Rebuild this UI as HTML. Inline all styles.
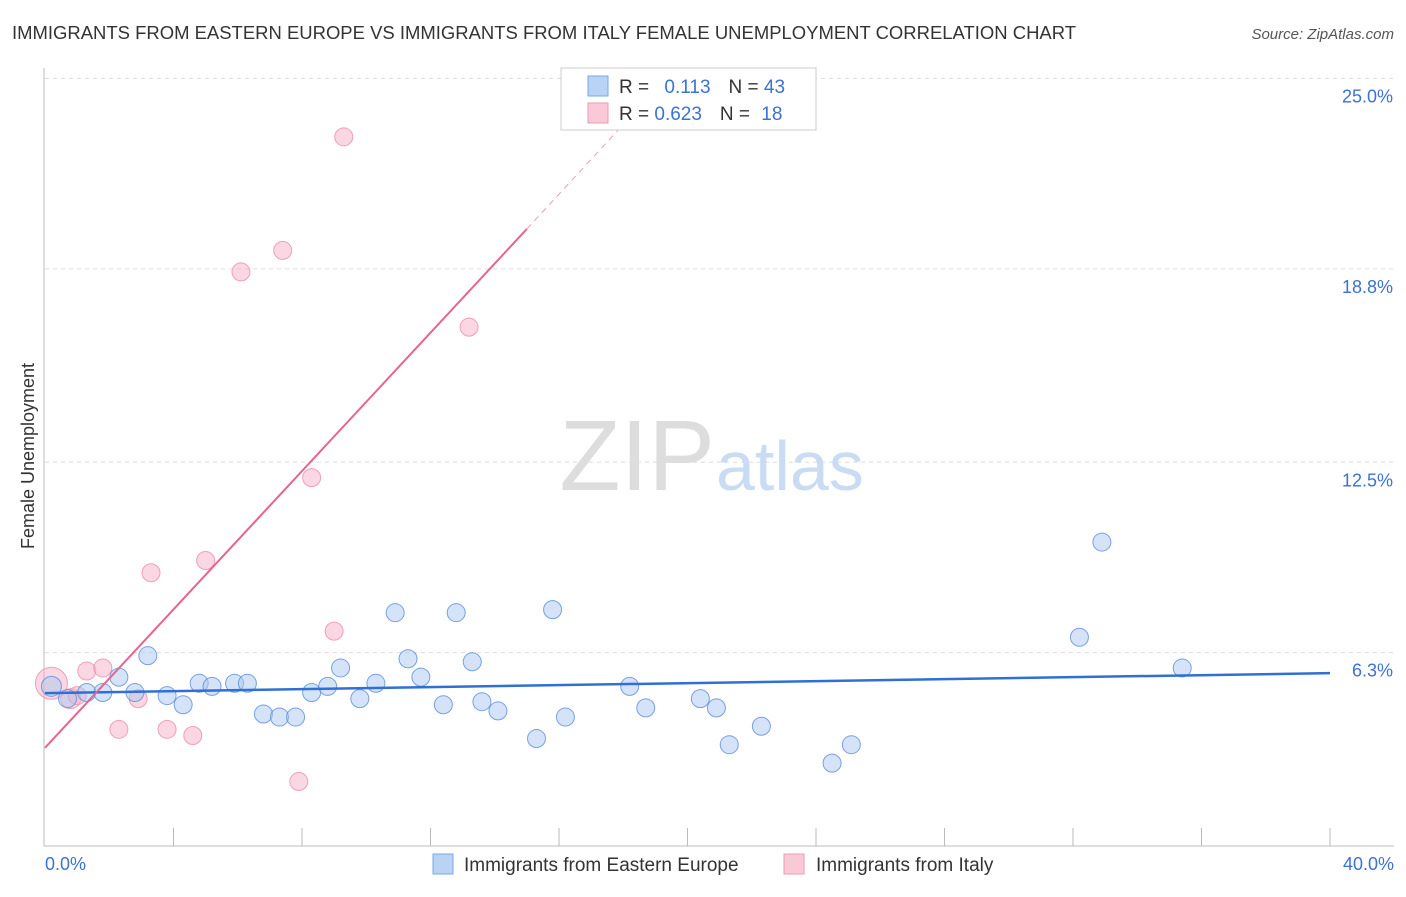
<!DOCTYPE html>
<html><head><meta charset="utf-8"><style>
body{margin:0;background:#fff;font-family:"Liberation Sans",sans-serif;}
svg text{font-family:"Liberation Sans",sans-serif;}
</style></head><body>
<svg width="1406" height="892" xmlns="http://www.w3.org/2000/svg">
<text x="12" y="39" font-size="18" fill="#333" textLength="1064" lengthAdjust="spacingAndGlyphs">IMMIGRANTS FROM EASTERN EUROPE VS IMMIGRANTS FROM ITALY FEMALE UNEMPLOYMENT CORRELATION CHART</text>
<text x="1394" y="39" font-size="15" fill="#555" font-style="italic" text-anchor="end">Source: ZipAtlas.com</text>
<g id="grid"></g>
<text x="715" y="490" font-size="100" fill="#ddd" text-anchor="end" font-family="Liberation Serif">ZIP</text>
<text x="716" y="490" font-size="70" fill="#c9dcf3">atlas</text>
<line x1="44" y1="68" x2="44" y2="846" stroke="#bbb"/>
<line x1="44" y1="846" x2="1394" y2="846" stroke="#bbb"/>
<text x="34" y="456" font-size="18" fill="#333" text-anchor="middle" transform="rotate(-90 34 456)">Female Unemployment</text>
<text x="45" y="870" font-size="18" fill="#3a72d8">0.0%</text>
<text x="1394" y="870" font-size="18" fill="#3a72d8" text-anchor="end">40.0%</text>
<g id="marks"></g>
<g>
<rect x="561" y="68" width="255" height="62" fill="#fff" stroke="#ccc"/>
<rect x="588" y="76" width="20" height="20" fill="#b9d3f5" stroke="#7aa6e6"/>
<rect x="588" y="103" width="20" height="20" fill="#f9c9d7" stroke="#ee9ab5"/>
<text x="619" y="93" font-size="19" fill="#333">R = <tspan fill="#3a72d8" dx="10">0.113</tspan><tspan dx="18">N = </tspan><tspan fill="#3a72d8">43</tspan></text>
<text x="619" y="120" font-size="19" fill="#333">R = <tspan fill="#3a72d8">0.623</tspan><tspan dx="18">N = </tspan><tspan fill="#3a72d8" dx="6">18</tspan></text>
</g>
<g>
<rect x="433" y="854" width="20" height="20" fill="#b9d3f5" stroke="#7aa6e6"/>
<text x="464" y="871" font-size="19" fill="#333">Immigrants from Eastern Europe</text>
<rect x="784" y="854" width="20" height="20" fill="#f9c9d7" stroke="#ee9ab5"/>
<text x="816" y="871" font-size="19" fill="#333">Immigrants from Italy</text>
</g>
</svg>
<script>
const yTicks=[25.0,18.8,12.5,6.3];
const yTickLabels=["25.0%","18.8%","12.5%","6.3%"];
const blueX=[0.2,0.7,1.3,1.8,2.3,2.8,3.2,3.8,4.3,4.8,5.2,5.9,6.3,6.8,7.3,7.8,8.3,8.8,9.2,9.8,10.3,10.9,11.3,11.7,12.4,12.8,13.3,13.6,14.1,15.3,15.8,16.2,18.2,18.7,20.4,20.9,21.3,22.3,24.5,25.1,32.2,32.9,35.4];
const blueY=[5.2,4.8,5.0,5.0,5.5,5.0,6.2,4.9,4.6,5.3,5.2,5.3,5.3,4.3,4.2,4.2,5.0,5.2,5.8,4.8,5.3,7.6,6.1,5.5,4.6,7.6,6.0,4.7,4.4,3.5,7.7,4.2,5.2,4.5,4.8,4.5,3.3,3.9,2.7,3.3,6.8,9.9,5.8];
const pinkX=[0.2,0.8,1.3,1.8,2.3,2.9,3.3,3.8,4.6,5.0,6.1,7.4,7.9,8.3,9.0,9.3,13.2,1.0];
const pinkY=[5.3,4.8,5.7,5.8,3.8,4.8,8.9,3.8,3.6,9.3,18.7,19.4,2.1,12.0,7.0,23.1,16.9,4.9];
const pinkR=[16,10,9,9,9,9,9,9,9,9,9,9,9,9,9,9,9,9];
const blueTrend=[0,4.98,40,5.63];
const pinkTrend=[0,3.2,15,20.1,18,23.5];
const X=v=>45+v/40*1285, Y=v=>846-v*30.7;
const NS="http://www.w3.org/2000/svg";
const grid=document.getElementById('grid'), marks=document.getElementById('marks');
function mk(tag,a,p){const e=document.createElementNS(NS,tag);for(const k in a)e.setAttribute(k,a[k]);p.appendChild(e);return e;}
yTicks.forEach((t,i)=>{
 const l=mk('line',{x1:45,x2:1394,y1:Y(t),y2:Y(t),stroke:'#ddd','stroke-dasharray':'4,4'},grid);
 
 
 const tx=mk('text',{x:1393,y:Y(t)+24,'font-size':18,fill:'#3a72d8','text-anchor':'end'},grid);
 tx.textContent=yTickLabels[i];
 
 
});
for(let i=1;i<=10;i++){
 const l=mk('line',{x1:X(i*4),x2:X(i*4),y1:828,y2:846,stroke:'#bbb'},grid);
 
 
}
pinkX.forEach((x,i)=>{
 const c=mk('circle',{cx:X(x),cy:Y(pinkY[i]),r:pinkR[i],fill:'rgba(246,176,198,0.5)',stroke:'rgba(236,140,170,0.8)','stroke-width':1},marks);
 
 
});
blueX.forEach((x,i)=>{
 const c=mk('circle',{cx:X(x),cy:Y(blueY[i]),r:i==0?10:9,fill:'rgba(170,200,240,0.5)',stroke:'rgba(90,140,220,0.8)','stroke-width':1},marks);
 
 
});
const bl=mk('line',{x1:X(blueTrend[0]),y1:Y(blueTrend[1]),x2:X(blueTrend[2]),y2:Y(blueTrend[3]),stroke:'#2f6fd6','stroke-width':2.5},marks);


const pl=mk('line',{x1:X(pinkTrend[0]),y1:Y(pinkTrend[1]),x2:X(pinkTrend[2]),y2:Y(pinkTrend[3]),stroke:'#e8648e','stroke-width':2},marks);


const pd=mk('line',{x1:X(pinkTrend[2]),y1:Y(pinkTrend[3]),x2:X(pinkTrend[4]),y2:Y(pinkTrend[5]),stroke:'#e8a0b6','stroke-width':1,'stroke-dasharray':'6,5'},marks);


</script>
</body></html>
